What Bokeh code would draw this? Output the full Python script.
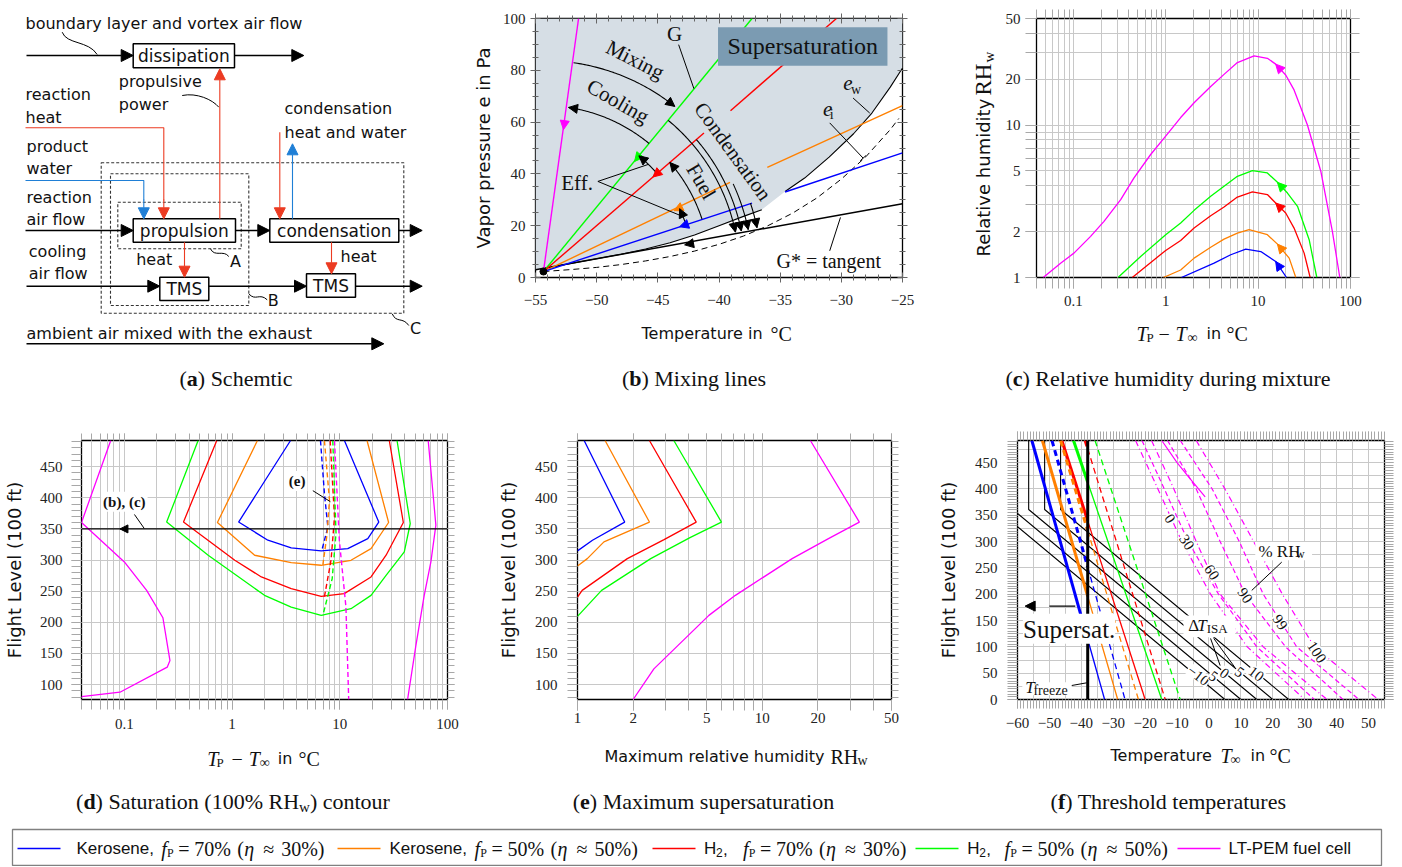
import numpy as np
from bokeh.plotting import figure
from bokeh.models import (Range1d, Label, Arrow, NormalHead, LinearAxis, LogAxis,
                          FixedTicker, CustomJSTickFormatter)
from bokeh.layouts import column, row
from bokeh.embed import file_html
from bokeh.resources import INLINE
from bokeh.core.properties import value

SERIF = "Liberation Serif"
SANS = "DejaVu Sans"
LSANS = "Liberation Sans"
C_BLUE = "#0000ff"; C_ORANGE = "#ff8000"; C_RED = "#ff0000"; C_GREEN = "#00ff00"; C_MAG = "#ff00ff"
S_RED = "#ec3b22"; S_BLUE = "#1f7fd6"
GRID = "#c8c8c8"; TICKG = "#a8a8a8"

# ======================= DATA =======================
# (b) Mixing lines  (T in degC, e in Pa)
b_amb_T, b_amb_e = -54.35, 2.3
b_mag_T = [-54.35, -51.48];  b_mag_e = [2.3, 100.0]
b_green_T = [-54.35, -37.3]; b_green_e = [2.3, 100.0]
b_red_T1 = [-54.35, -41.23]; b_red_e1 = [2.3, 55.8]
b_red_T2 = [-39.06, -30.4];  b_red_e2 = [64.4, 100.0]
b_orange_T1 = [-54.35, -39.1]; b_orange_e1 = [2.3, 36.7]
b_orange_T2 = [-36.05, -25.0]; b_orange_e2 = [42.5, 66.4]
b_blue_T1 = [-54.35, -37.3]; b_blue_e1 = [2.3, 28.7]
b_blue_T2 = [-34.6, -25.0];  b_blue_e2 = [33.0, 48.1]
b_tan_T = [-55.0, -25.0]; b_tan_e = [3.0, 28.5]
b_ew_T1 = [-54.35, -52, -50, -48, -46, -44, -42, -40, -38, -36.5]
b_ew_e1 = [3.4, 5.5, 7.25, 9.0, 11.0, 13.4, 16.4, 20.0, 23.6, 26.2]
b_ew_T2 = [-34.6, -33, -31, -29, -27.5, -26, -25]
b_ew_e2 = [33.2, 38.4, 46.5, 55.5, 63.5, 73.5, 80.9]
b_ei_T = [-54.35, -52, -50, -48, -46, -44, -42, -40, -38, -36, -34, -32, -30, -28, -26, -25.3]
b_ei_e = [2.3, 3.1, 3.9, 5.0, 6.4, 8.1, 10.2, 12.8, 16.0, 20.0, 24.8, 30.7, 38.0, 46.6, 57.1, 61.4]
b_arrow_mag = (-52.71, 57.1); b_arrow_green = (-46.9, 44.8); b_arrow_red = (-45.4, 38.8)
b_arrow_orange = (-43.68, 25.8); b_arrow_blue = (-43.22, 19.6); b_arrow_tan = (-42.81, 12.6)

# (c) Relative humidity during mixture: x = T_P - T_inf (degC), y = RH_w
c_mag_x = [0.0473, 0.0729, 0.1017, 0.154, 0.215, 0.326, 0.454, 0.688, 1.0, 1.453, 2.03, 3.07, 4.28,
           5.97, 9.05, 12.6, 15.5, 19.9, 24.5, 34.2, 47.7, 63.8, 76.6]
c_mag_y = [1.0, 1.242, 1.445, 1.862, 2.335, 3.24, 4.50, 6.41, 8.45, 11.2, 14.0, 17.9, 21.5,
           25.7, 28.4, 27.4, 25.1, 21.3, 17.0, 10.0, 4.98, 1.99, 1.0]
c_green_x = [0.305, 0.536, 1.0, 1.453, 2.03, 3.07, 4.28, 5.97, 8.68, 12.6, 16.2, 20.8, 26.7, 35.7, 43.2]
c_green_y = [1.0, 1.374, 1.908, 2.28, 2.757, 3.41, 3.97, 4.61, 5.03, 4.85, 4.21, 3.58, 2.93, 1.769, 1.0]
c_red_x = [0.435, 1.0, 1.453, 2.03, 3.07, 4.28, 5.97, 8.68, 12.6, 15.5, 19.9, 24.5, 31.5, 36.6]
c_red_y = [1.0, 1.505, 1.75, 2.11, 2.54, 2.90, 3.37, 3.64, 3.50, 3.08, 2.65, 2.11, 1.445, 1.0]
c_orange_x = [0.944, 1.453, 2.03, 3.07, 4.28, 5.97, 7.99, 12.6, 16.2, 21.7, 25.6]
c_orange_y = [1.0, 1.12, 1.34, 1.58, 1.786, 1.955, 2.06, 1.908, 1.656, 1.34, 1.0]
c_blue_x = [1.48, 3.34, 5.06, 7.35, 10.7, 15.5, 20.3]
c_blue_y = [1.0, 1.242, 1.41, 1.536, 1.48, 1.274, 1.0]
c_arrows = [((15.5, 25.1), (19.9, 21.3), C_MAG), ((16.2, 4.21), (20.8, 3.58), C_GREEN),
            ((15.5, 3.08), (19.9, 2.65), C_RED), ((16.2, 1.656), (21.7, 1.34), C_ORANGE),
            ((15.5, 1.274), (20.3, 1.0), C_BLUE)]

# (d) Saturation contours: x = T_P - T_inf, y = flight level (100 ft)
d_blue_x = [3.49, 1.15, 2.15, 3.54, 6.72, 11.86, 18.2, 23.0, 11.04]
d_blue_y = [492, 361, 331.8, 319.5, 314.7, 318.4, 334.5, 361, 492]
d_orange_x = [1.72, 0.731, 1.62, 3.54, 6.72, 12.7, 19.5, 28.4, 17.9]
d_orange_y = [492, 360.3, 307.7, 295.9, 291.6, 299.6, 318.4, 360.3, 492]
d_red_x = [0.721, 0.354, 1.06, 1.87, 3.54, 6.72, 11.0, 19.5, 26.9, 38.9, 28.8]
d_red_y = [492, 361, 299.6, 272.8, 254, 241.7, 246, 272.8, 307.7, 360.3, 492]
d_green_x = [0.484, 0.247, 0.6, 2.0, 3.54, 6.72, 12.7, 19.5, 26.9, 39.7, 45.1, 34.0]
d_green_y = [492, 361, 307.7, 243.3, 224.5, 211.1, 221.8, 243.3, 275.5, 313, 358.7, 492]
d_magL_x = [0.0747, 0.04, 0.1, 0.161, 0.228, 0.265, 0.25, 0.091, 0.04]
d_magL_y = [492, 360.3, 297, 251.3, 207.3, 138.6, 127.9, 87.7, 80.7]
d_magR_x = [66.2, 78.0, 70.1, 60.8, 50.9, 42.6]
d_magR_y = [492, 356, 297, 243.3, 162.8, 76]
d_blue_dx = [6.62, 7.2, 7.75, 6.8];  d_blue_dy = [492, 407, 353, 315]
d_orange_dx = [7.2, 8.02, 7.6, 6.96]; d_orange_dy = [492, 396, 340, 292]
d_red_dx = [8.14, 8.93, 8.3, 7.2];    d_red_dy = [492, 369, 300, 241]
d_green_dx = [8.61, 9.23, 8.5, 6.96]; d_green_dy = [492, 343, 270, 211]
d_mag_dx = [8.93, 9.9, 11.4, 12.1];   d_mag_dy = [492, 332, 225, 76]
d_cruise_FL = 350

# (e) Maximum supersaturation: x = max RH_w, y = flight level
e_blue_x = [1.086, 1.80, 1.205, 1.0];              e_blue_y = [492, 361, 331.8, 314.7]
e_orange_x = [1.41, 2.45, 1.39, 1.13, 1.0];        e_orange_y = [492, 361, 329.2, 302.3, 290.5]
e_red_x = [2.45, 4.39, 2.94, 1.86, 1.06, 1.0];     e_red_y = [492, 361, 332.9, 302.3, 251.3, 240.6]
e_green_x = [3.32, 6.01, 4.06, 2.49, 1.35, 1.0];   e_green_y = [492, 361, 336.1, 302.3, 251.3, 209.5]
e_mag_x = [18.2, 33.5, 22.8, 14.5, 7.15, 5.14, 2.59, 2.0]
e_mag_y = [492, 361, 334.5, 302.3, 243.3, 211.1, 125.2, 76]

# (f) Threshold temperatures (T in degC at FL 492 and FL 0)
f_FL_top, f_FL_bot = 492, 0
f_T_freeze = -38.0
f_solid_top = [-55.5, -52.2, -46.1, -42.45]   # blue, orange, red, green
f_solid_bot = [-32.7, -28.6, -20.0, -14.8]
f_dash_top = [-49.2, -46.5, -38.8, -35.7]
f_dash_bot = [-26.3, -22.1, -13.7, -9.0]
f_isa_dT = ["\u221210", "5", "0", "5", "10"]
f_isa_trop_T = [-66.5, -61.5, -56.5, -51.5, -46.5]
f_isa_ground_T = [5, 10, 15, 20, 25]
f_trop_FL = 361
f_isa_label_T = [-3.3, 1.4, 4.85, 9.55, 14.8]
f_isa_label_FL = [45.6, 44.3, 50.0, 52.0, 48.9]
f_rh_levels = ["0", "30", "60", "90", "99", "100"]
f_rh_FL = [492, 400, 300, 200, 100, 0]
f_rh_T = [[-23, -16, -8.5, 0.5, 12, 30],
          [-21, -14, -6.5, 3, 15, 33],
          [-18, -11, -4, 3.5, 17, 37],
          [-13, -4, 3.5, 11.4, 24, 42],
          [-9, 1, 9.5, 17, 27.5, 47],
          [-4, 5, 14, 23, 33, 53]]
f_rh_dash = ["6 3 1 3", "5 3", "6 3 1 3", "5 3", "5 3", "6 3 1 3"]
f_rh_label_T = [-12.2, -6.9, 0.9, 11.35, 22.3, 33.8]
f_rh_label_FL = [343.5, 299, 242, 197.7, 147, 90]
f_mag_solid_T = [-14.8, -10.0, -6.4, -1.2]
f_mag_solid_FL = [492, 450, 423, 385]

# legend
leg_colors = [C_BLUE, C_ORANGE, C_RED, C_GREEN, C_MAG]
leg_fuel = ["Kerosene,", "Kerosene,", "H", "H", "LT-PEM fuel cell"]
leg_fp = ["70%", "50%", "70%", "50%"]
leg_eta = ["30%", "50%", "30%", "50%"]

# ======================= HELPERS =======================
TIMES = {' ': 250, '(': 333, ')': 333, '%': 833, ',': 250, '.': 250, '-': 333}
for _c in '0123456789':
    TIMES[_c] = 500
TIMES.update(dict(a=444, b=500, c=444, d=500, e=444, f=333, g=500, h=500, i=278, j=278, k=500, l=278,
                  m=778, n=500, o=500, p=500, q=500, r=333, s=389, t=278, u=500, v=500, w=722,
                  x=500, y=500, z=444))
TIMES.update({'S': 556, 'R': 667, 'H': 722, 'M': 889, 'T': 611, 'C': 667})
TIMES_B = dict(a=500, b=556, c=444, d=556, e=444, f=333)


def tw(s, size, bold=False):
    tot = 0
    for ch in s:
        tot += TIMES_B.get(ch, TIMES.get(ch, 500)) if bold else TIMES.get(ch, 500)
    return tot * size / 1000.0


def mkfig(w, h, bl, br, bt, bb, xr, yr, xlog=False, ylog=False):
    p = figure(width=w, height=h, x_range=xr, y_range=yr,
               x_axis_type="log" if xlog else "linear",
               y_axis_type="log" if ylog else "linear",
               output_backend="svg", toolbar_location=None,
               min_border_left=bl, min_border_right=br, min_border_top=bt, min_border_bottom=bb)
    p.outline_line_color = "black"
    p.outline_line_width = 1.3
    p.background_fill_color = "white"
    p.border_fill_color = "white"
    return p


def blank(w, h, xr, yr, bt=0, bb=0):
    p = figure(width=w, height=h, x_range=xr, y_range=yr, output_backend="svg",
               toolbar_location=None, min_border_left=0, min_border_right=0,
               min_border_top=bt, min_border_bottom=bb,
               x_axis_location=None, y_axis_location=None)
    p.grid.visible = False
    p.outline_line_color = None
    p.background_fill_color = "white"
    p.border_fill_color = "white"
    return p


FMT = "var v = Math.round(tick*1000)/1000; return v < 0 ? '\u2212' + String(-v) : String(v);"


def cfg_axis(ax, ticks, minor, labels=True, tin=0, tout=10, mtin=0, mtout=10,
             color=TICKG, standoff=6, size="15px"):
    ax.ticker = FixedTicker(ticks=ticks, minor_ticks=minor)
    ax.axis_line_color = None
    ax.major_tick_line_color = color
    ax.minor_tick_line_color = color
    ax.major_tick_in = tin
    ax.major_tick_out = tout
    ax.minor_tick_in = mtin
    ax.minor_tick_out = mtout
    ax.major_label_text_font = SERIF
    if labels:
        ax.formatter = CustomJSTickFormatter(code=FMT)
        ax.major_label_text_color = "#222222"
        ax.major_label_text_font_size = size
        ax.major_label_standoff = standoff
    else:
        ax.formatter = CustomJSTickFormatter(code="return '';")
        ax.major_label_text_color = None
        ax.major_label_text_font_size = "1px"
        ax.major_label_standoff = 0


def frame_axes(p, xlog, ylog, xt, xm, yt, ym, **kw):
    top = LogAxis() if xlog else LinearAxis()
    cfg_axis(top, xt, xm, labels=False, **kw)
    p.add_layout(top, "above")
    right = LogAxis() if ylog else LinearAxis()
    cfg_axis(right, yt, ym, labels=False, **kw)
    p.add_layout(right, "right")


def gtext(p, x, y, text, font=SERIF, size=18, style="normal", align="left", angle=0.0,
          color="#111111"):
    p.text(x=[x], y=[y], text=[text], text_font=value(font), text_font_size=value(f"{size}px"),
           text_font_style=style, text_align=align, text_baseline="middle", angle=angle,
           text_color=color)


def dlabel(p, x, y, text, font=SERIF, size=18, style="normal", align="center", angle=0,
           color="#111111", bg=None, pad=0):
    kw = {}
    if bg is not None:
        kw = dict(background_fill_color=bg, background_fill_alpha=1.0, padding=pad)
    p.add_layout(Label(x=x, y=y, text=text, text_font=font, text_font_size=f"{size}px",
                       text_font_style=style, text_align=align, text_baseline="middle",
                       angle=angle, angle_units="deg", text_color=color, **kw))


def caption(p, cx, cy, pieces):
    size, ssize = 22, 15
    total = 0
    for t, k in pieces:
        total += tw(t, ssize) if k == "sub" else tw(t, size, k == "b")
    x = cx - total / 2.0
    for t, k in pieces:
        if k == "sub":
            gtext(p, x, cy + 5, t, size=ssize)
            x += tw(t, ssize)
        else:
            gtext(p, x, cy, t, size=size, style="bold" if k == "b" else "normal")
            x += tw(t, size, k == "b")


def head(p, xa, ya, xb, yb, color="black", size=8):
    p.add_layout(Arrow(x_start=xa, y_start=ya, x_end=xb, y_end=yb, line_alpha=0.0,
                       end=NormalHead(size=size, fill_color=color, line_color=color, line_width=1)))


def arrow(p, xa, ya, xb, yb, color="black", width=1.5, size=11):
    p.add_layout(Arrow(x_start=xa, y_start=ya, x_end=xb, y_end=yb, line_color=color,
                       line_width=width,
                       end=NormalHead(size=size, fill_color=color, line_color=color, line_width=1)))


def style_label(ax, size="18px", standoff=8):
    ax.axis_label_text_font = SANS
    ax.axis_label_text_font_size = size
    ax.axis_label_text_font_style = "normal"
    ax.axis_label_text_color = "#111111"
    ax.axis_label_standoff = standoff


LOG_GRID_C = [k * 10.0 ** e for e in (-2, -1, 0, 1) for k in range(1, 10)
              if 0.04 <= k * 10.0 ** e <= 100] + [100.0]

# ======================= (a) Schematic (page coordinates) =======================
pa = blank(460, 406, Range1d(0, 460), Range1d(406, 0))
pa.quad(left=[117.3, 110, 100.7], right=[240.7, 248.3, 403.3], top=[201.7, 173.3, 162.3],
        bottom=[248.3, 305, 312.7], fill_color=None, line_color="#333333", line_dash="3 2",
        line_width=1.1)
for xa, ya, xb, yb in [(26, 55, 132.7, 55), (234, 55, 303.3, 55), (25, 230, 132.7, 230),
                       (235, 230, 269.3, 230), (398.3, 230, 421.7, 230), (26, 285.7, 159.3, 285.7),
                       (208.3, 285.7, 306, 285.7), (355, 285.7, 421.7, 285.7),
                       (26, 343.3, 383.3, 343.3)]:
    arrow(pa, xa, ya, xb, yb, "black", 1.6, 12)
pa.line([25, 163.3, 163.3], [127.3, 127.3, 200], line_color=S_RED, line_width=1.1)
arrow(pa, 163.3, 199, 163.3, 218.3, S_RED, 1.1, 11)
pa.line([25, 143.3, 143.3], [180, 180, 200], line_color=S_BLUE, line_width=1.1)
arrow(pa, 143.3, 199, 143.3, 218.3, S_BLUE, 1.1, 11)
arrow(pa, 219.3, 218.3, 219.3, 68.3, S_RED, 1.1, 11)
arrow(pa, 279.3, 131.7, 279.3, 218.3, S_RED, 1.1, 11)
arrow(pa, 292, 218.3, 292, 143.3, S_BLUE, 1.1, 11)
arrow(pa, 184, 241.7, 184, 276.7, S_RED, 1.1, 11)
arrow(pa, 331, 241.7, 331, 273.3, S_RED, 1.1, 11)
pa.quad(left=[132.7, 132.7, 269.3, 159.3, 306], right=[234, 235, 398.3, 208.3, 355],
        top=[43.3, 218.3, 218.3, 276.7, 273.3], bottom=[67.3, 241.7, 241.7, 300, 296.7],
        fill_color="white", line_color="black", line_width=1.5)
pa.text(x=[183.3, 183.8, 333.8, 183.8, 330.5], y=[55, 230, 230, 288.3, 285],
        text=["dissipation", "propulsion", "condensation", "TMS", "TMS"],
        text_font=value(SANS), text_font_size=value("17px"), text_align="center",
        text_baseline="middle", text_color="#111111")
pa.text(x=[25, 118.3, 118.3, 25, 25, 26, 26, 26, 26, 284, 284, 28.3, 28.3, 135.7, 340, 26],
        y=[22.7, 80.7, 104, 94.3, 116.7, 146, 168.3, 196.7, 219.3, 108.3, 131.7, 250.7, 273.3,
           259.3, 256, 332.7],
        text=["boundary layer and vortex air flow", "propulsive", "power", "reaction", "heat",
              "product", "water", "reaction", "air flow", "condensation", "heat and water",
              "cooling", "air flow", "heat", "heat", "ambient air mixed with the exhaust"],
        text_font=value(SANS), text_font_size=value("16px"), text_align="left",
        text_baseline="middle", text_color="#111111")
pa.text(x=[235, 272.7, 415], y=[260.7, 300, 328.3], text=["A", "B", "C"],
        text_font=value(SANS), text_font_size=value("16px"), text_align="center",
        text_baseline="middle", text_color="#111111")
pa.bezier(x0=[61.7, 181.7, 210, 248.3, 391.7], y0=[31.7, 95, 248.3, 293.3, 313.3],
          x1=[96.7, 218.3, 228.3, 266.7, 408.3], y1=[54, 106.7, 256, 299.3, 325],
          cx0=[66, 196, 214, 255, 396], cy0=[44, 92, 257, 301, 323],
          cx1=[88, 212, 223, 259, 402], cy1=[40, 99, 249, 292, 316],
          line_color="black", line_width=1)
caption(pa, 235.5, 378, [("(", "n"), ("a", "b"), (") Schemtic", "n")])

# ======================= (b) Mixing lines =======================
R1H, R1T, R1B = 314, 18, 37
pb = mkfig(475, R1H, 75, 33, R1T, R1B, Range1d(-55, -25), Range1d(0, 100))
BX = list(range(-55, -24, 5)); BXm = list(range(-55, -24, 1))
BY = list(range(0, 101, 20)); BYm = list(range(0, 101, 5))
bx_ax, by_ax = pb.xaxis[0], pb.yaxis[0]
cfg_axis(bx_ax, BX, BXm, tin=5, tout=5, mtin=3, mtout=3, color="#666666", standoff=12)
cfg_axis(by_ax, BY, BYm, tin=5, tout=5, mtin=3, mtout=3, color="#666666", standoff=5)
by_ax.axis_label = "Vapor pressure e in Pa"
style_label(by_ax, "18px", 6)
frame_axes(pb, False, False, BX, BXm, BY, BYm, tin=5, tout=5, mtin=3, mtout=3, color="#666666")
pb.grid.visible = False

shade_x = [-55.0] + b_ew_T1 + b_ew_T2 + [-25.0, -55.0]
shade_y = [3.0] + b_ew_e1 + b_ew_e2 + [100.0, 100.0]
pb.patch(shade_x, shade_y, fill_color="#d6dee5", line_color=None)
pb.line(b_ei_T, b_ei_e, line_color="black", line_dash="6 4", line_width=1)
pb.line(b_ew_T1, b_ew_e1, line_color="black", line_width=1.1)
pb.line(b_ew_T2, b_ew_e2, line_color="black", line_width=1.1)
pb.line(b_tan_T, b_tan_e, line_color="black", line_width=1.5)
pb.line(b_mag_T, b_mag_e, line_color=C_MAG, line_width=1.4)
pb.line(b_green_T, b_green_e, line_color=C_GREEN, line_width=1.4)
pb.line(b_red_T1, b_red_e1, line_color=C_RED, line_width=1.4)
pb.line(b_red_T2, b_red_e2, line_color=C_RED, line_width=1.4)
pb.line(b_orange_T1, b_orange_e1, line_color=C_ORANGE, line_width=1.4)
pb.line(b_orange_T2, b_orange_e2, line_color=C_ORANGE, line_width=1.4)
pb.line(b_blue_T1, b_blue_e1, line_color=C_BLUE, line_width=1.4)
pb.line(b_blue_T2, b_blue_e2, line_color=C_BLUE, line_width=1.4)
pb.scatter([b_amb_T], [b_amb_e], size=7, color="black")

for (ax_, ay_), (ex, ey), col in [(b_arrow_mag, (b_mag_T[1], b_mag_e[1]), C_MAG),
                                  (b_arrow_green, (b_green_T[1], b_green_e[1]), C_GREEN),
                                  (b_arrow_red, (b_red_T1[1], b_red_e1[1]), C_RED),
                                  (b_arrow_orange, (b_orange_T1[1], b_orange_e1[1]), C_ORANGE),
                                  (b_arrow_blue, (b_blue_T1[1], b_blue_e1[1]), C_BLUE),
                                  (b_arrow_tan, (b_tan_T[1], b_tan_e[1]), "black")]:
    head(pb, ax_ + 0.06 * (ex - b_amb_T), ay_ + 0.06 * (ey - b_amb_e), ax_, ay_, col, 9)

SXB = 367.0 / 30.0; SYB = 259.0 / 100.0


def arc(r, a0, a1, n=60):
    t = np.radians(np.linspace(a0, a1, n))
    return (b_amb_T + r * np.cos(t) / SXB).tolist(), (b_amb_e + r * np.sin(t) / SYB).tolist()


for r, a0, a1 in [(211, 81.8, 51.5), (166, 50.5, 81.3), (150, 40.8, 50.5), (150, 18.3, 24.8),
                  (167, 18.3, 40.8), (196, 50.5, 11.6), (202, 40.8, 11.6), (209, 24.8, 11.6),
                  (218, 18.3, 11.6)]:
    xs, ys = arc(r, a0, a1)
    pb.line(xs, ys, line_color="black", line_width=1.1)
    head(pb, xs[-3], ys[-3], xs[-1], ys[-1], "black", 9)

pb.quad(left=[-40.08], right=[-26.23], top=[96.6], bottom=[81.8], fill_color="#7b9bb2",
        line_color=None)
dlabel(pb, -33.15, 89.2, "Supersaturation", size=24)
dlabel(pb, -43.63, 94.2, "G", size=21)
pb.line([-43.3, -42.05], [89.9, 72.9], line_color="black", line_width=1)
dlabel(pb, -46.85, 84.1, "Mixing", size=21, angle=-27)
dlabel(pb, -48.26, 68.0, "Cooling", size=21, angle=-30)
dlabel(pb, -38.86, 48.7, "Condensation", size=21, angle=-54)
dlabel(pb, -41.45, 37.1, "Fuel", size=21, angle=-60)
dlabel(pb, -51.6, 36.5, "Eff.", size=21)
e1x, e1y = arc(150, 45.6, 45.6, 1)
e2x, e2y = arc(150, 21.5, 21.5, 1)
pb.line([e1x[0], -49.9, e2x[0]], [e1y[0], 37.1, e2y[0]], line_color="black", line_width=1)
dlabel(pb, -29.85, 75.1, "e", size=21, style="italic", align="left")
dlabel(pb, -29.2, 72.7, "w", size=14, align="left")
pb.line([-29.04, -27.68], [69.3, 63.5], line_color="black", line_width=1)
dlabel(pb, -31.5, 65.2, "e", size=21, style="italic", align="left")
dlabel(pb, -30.95, 63.0, "i", size=14, align="left")
pb.line([-30.95, -28.22], [59.7, 46.1], line_color="black", line_width=1)
pb.line([-28.45, -27.98], [45.1, 47.1], line_color="black", line_width=1)
dlabel(pb, -31.03, 6.4, "G* = tangent", size=20)
pb.line([-30.95, -30.07], [10.3, 23.2], line_color="black", line_width=1)

# ======================= (c) Relative humidity =======================
# y-label strip (frame covers page y 18..277; data y = 277 - page y)
pct = blank(65, R1H, Range1d(935, 1000), Range1d(0, 259), bt=R1T, bb=R1B)
gtext(pct, 983, 277 - 256, "Relative humidity", font=SANS, size=18, angle=np.pi / 2)
gtext(pct, 983, 277 - 95, "RH", size=23, angle=np.pi / 2)
gtext(pct, 988, 277 - 62, "w", size=15, angle=np.pi / 2)

pc = mkfig(402, R1H, 36, 52, R1T, R1B, Range1d(0.04, 100), Range1d(1, 50), xlog=True, ylog=True)
CXt = [0.1, 1, 10, 100]
CYg = [1, 2, 3, 4, 5, 6, 7, 8, 9, 10, 20, 30, 40, 50]
CYt = [1, 2, 5, 10, 20, 50]
cfg_axis(pc.xaxis[0], CXt, LOG_GRID_C, standoff=7, tout=11, mtout=11)
cfg_axis(pc.yaxis[0], CYt, CYg, standoff=5, tout=11, mtout=11)
frame_axes(pc, True, True, CXt, LOG_GRID_C, CYt, CYg, tout=9, mtout=9)
pc.xgrid.ticker = FixedTicker(ticks=LOG_GRID_C)
pc.ygrid.ticker = FixedTicker(ticks=CYg)
pc.grid.grid_line_color = GRID
for xs, ys, col in [(c_mag_x, c_mag_y, C_MAG), (c_green_x, c_green_y, C_GREEN),
                    (c_red_x, c_red_y, C_RED), (c_orange_x, c_orange_y, C_ORANGE),
                    (c_blue_x, c_blue_y, C_BLUE)]:
    pc.line(xs, ys, line_color=col, line_width=1.3)
for (tip, tail, col) in c_arrows:
    head(pc, tail[0], tail[1], tip[0], tip[1], col, 9)

# strip under b and c (page coordinates)
s1 = blank(942, 92, Range1d(460, 1402), Range1d(406, 314))
gtext(s1, 641, 333, "Temperature in", font=SANS, size=16)
gtext(s1, 770, 333, "\u00b0C", size=20)
gtext(s1, 1136, 333, "T", size=20, style="italic")
gtext(s1, 1146, 337, "P", size=13)
gtext(s1, 1158, 333, "\u2212", size=20)
gtext(s1, 1175, 333, "T", size=20, style="italic")
gtext(s1, 1187, 337, "\u221e", size=14)
gtext(s1, 1206, 333, "in", font=SANS, size=16)
gtext(s1, 1226, 333, "\u00b0C", size=20)
caption(s1, 693.5, 378, [("(", "n"), ("b", "b"), (") Mixing lines", "n")])
caption(s1, 1167.5, 378, [("(", "n"), ("c", "b"), (") Relative humidity during mixture", "n")])

# ======================= (d) Saturation contours =======================
R2H, R2T, R2B = 331, 34, 38
pdd = mkfig(480, R2H, 80, 33, R2T, R2B, Range1d(0.04, 100), Range1d(76, 492), xlog=True)
DYt = [100, 150, 200, 250, 300, 350, 400, 450]
DYm = list(range(80, 492, 10))
dy_ax = pdd.yaxis[0]
cfg_axis(pdd.xaxis[0], CXt, LOG_GRID_C, standoff=9, tout=10, mtout=10)
cfg_axis(dy_ax, DYt, DYm, standoff=9, tout=10, mtout=10)
dy_ax.axis_label = "Flight Level (100 ft)"
style_label(dy_ax, "18px", 12)
frame_axes(pdd, True, False, CXt, LOG_GRID_C, DYt, DYm, tout=7, mtout=7)
pdd.xgrid.ticker = FixedTicker(ticks=LOG_GRID_C)
pdd.ygrid.ticker = FixedTicker(ticks=DYt)
pdd.grid.grid_line_color = GRID
for xs, ys, col in [(d_blue_x, d_blue_y, C_BLUE), (d_orange_x, d_orange_y, C_ORANGE),
                    (d_red_x, d_red_y, C_RED), (d_green_x, d_green_y, C_GREEN),
                    (d_magL_x, d_magL_y, C_MAG), (d_magR_x, d_magR_y, C_MAG)]:
    pdd.line(xs, ys, line_color=col, line_width=1.3)
for xs, ys, col in [(d_blue_dx, d_blue_dy, C_BLUE), (d_orange_dx, d_orange_dy, C_ORANGE),
                    (d_red_dx, d_red_dy, C_RED), (d_green_dx, d_green_dy, C_GREEN),
                    (d_mag_dx, d_mag_dy, C_MAG)]:
    pdd.line(xs, ys, line_color=col, line_width=1.4, line_dash="5 3")
pdd.line([0.04, 100], [d_cruise_FL, d_cruise_FL], line_color="black", line_width=1.4)
head(pdd, 0.115, d_cruise_FL, 0.091, d_cruise_FL, "black", 8)
pdd.line([0.124, 0.153], [373.2, 350.7], line_color="black", line_width=1)
pdd.line([5.62, 8.18], [411.4, 393.7], line_color="black", line_width=1)
dlabel(pdd, 0.1, 393.6, "(b), (c)", size=15, style="bold", bg="white", pad=2)
dlabel(pdd, 4.02, 426.8, "(e)", size=15, style="bold", bg="white", pad=2)

# ======================= (e) Maximum supersaturation =======================
pe = mkfig(450, R2H, 97, 39, R2T, R2B, Range1d(1, 50), Range1d(76, 492), xlog=True)
EXt = [1, 2, 5, 10, 20, 50]
EXg = [1, 2, 3, 4, 5, 6, 7, 8, 9, 10, 20, 30, 40, 50]
ey_ax = pe.yaxis[0]
cfg_axis(pe.xaxis[0], EXt, EXg, standoff=2, tout=11, mtout=11)
cfg_axis(ey_ax, DYt, DYm, standoff=10, tout=10, mtout=10)
ey_ax.axis_label = "Flight Level (100 ft)"
style_label(ey_ax, "18px", 13)
frame_axes(pe, True, False, EXt, EXg, DYt, DYm, tout=7, mtout=7)
pe.xgrid.ticker = FixedTicker(ticks=EXg)
pe.ygrid.ticker = FixedTicker(ticks=DYt)
pe.grid.grid_line_color = GRID
for xs, ys, col in [(e_blue_x, e_blue_y, C_BLUE), (e_orange_x, e_orange_y, C_ORANGE),
                    (e_red_x, e_red_y, C_RED), (e_green_x, e_green_y, C_GREEN),
                    (e_mag_x, e_mag_y, C_MAG)]:
    pe.line(xs, ys, line_color=col, line_width=1.3)

# ======================= (f) Threshold temperatures =======================
pf = mkfig(472, R2H, 87, 18, R2T, R2B, Range1d(-60, 55), Range1d(0, 492))
FXt = list(range(-60, 51, 10)); FXm = list(range(-60, 56, 1)); FXg = list(range(-60, 56, 5))
FYt = list(range(0, 451, 50)); FYm = list(range(0, 492, 5)); FYg = list(range(0, 492, 25))
fy_ax = pf.yaxis[0]
cfg_axis(pf.xaxis[0], FXt, FXm, standoff=9, tout=9, mtout=9)
cfg_axis(fy_ax, FYt, FYm, standoff=10, tout=10, mtout=10)
fy_ax.axis_label = "Flight Level (100 ft)"
style_label(fy_ax, "18px", 13)
frame_axes(pf, False, False, FXt, FXm, FYt, FYm, tout=9, mtout=9)
pf.xgrid.ticker = FixedTicker(ticks=FXg)
pf.ygrid.ticker = FixedTicker(ticks=FYg)
pf.grid.grid_line_color = GRID

for xs, dash in zip(f_rh_T, f_rh_dash):
    pf.line(xs, f_rh_FL, line_color=C_MAG, line_width=1.2, line_dash=dash)
pf.line(f_mag_solid_T, f_mag_solid_FL, line_color=C_MAG, line_width=1.2)
for tt, tg in zip(f_isa_trop_T, f_isa_ground_T):
    pf.line([tt, tt, tg], [f_FL_top, f_trop_FL, f_FL_bot], line_color="black", line_width=1.1)


def split_line(p, t_top, t_bot, col, dash):
    frac = (f_T_freeze - t_top) / (t_bot - t_top)
    fl_mid = f_FL_top + frac * (f_FL_bot - f_FL_top)
    kw = dict(line_dash=dash) if dash else {}
    if t_top < f_T_freeze:
        p.line([t_top, f_T_freeze], [f_FL_top, fl_mid], line_color=col, line_width=3, **kw)
        p.line([f_T_freeze, t_bot], [fl_mid, f_FL_bot], line_color=col, line_width=1.3, **kw)
    else:
        p.line([t_top, t_bot], [f_FL_top, f_FL_bot], line_color=col, line_width=1.3, **kw)


for tt, tb, col in zip(f_solid_top, f_solid_bot, [C_BLUE, C_ORANGE, C_RED, C_GREEN]):
    split_line(pf, tt, tb, col, None)
for tt, tb, col in zip(f_dash_top, f_dash_bot, [C_BLUE, C_ORANGE, C_RED, C_GREEN]):
    split_line(pf, tt, tb, col, "6 4")
pf.line([f_T_freeze, f_T_freeze], [f_FL_bot, f_FL_top], line_color="black", line_width=3)

pf.quad(left=[-58.3, -8.0, 14.5, -58.5], right=[-29.4, 8.2, 32.3, -43.0],
        top=[162.9, 159.7, 299, 33], bottom=[105.8, 118.4, 264.3, 8],
        fill_color="white", line_color=None)
dlabel(pf, -43.8, 133, "Supersat.", size=25)
head(pf, -50, 177.4, -57.6, 177.4, "black", 10)
pf.line([-41.9, -50], [177.4, 177.4], line_color="black", line_width=1.3)
dlabel(pf, -57.6, 23, "T", size=17, style="italic", align="left")
dlabel(pf, -55.0, 17, "freeze", size=14, align="left")
pf.line([-43.0, -38.3], [26.6, 31.7], line_color="black", line_width=1)
dlabel(pf, -6.5, 140.7, "\u0394", size=17, align="left")
dlabel(pf, -3.7, 140.7, "T", size=17, style="italic", align="left")
dlabel(pf, -0.7, 134.0, "ISA", size=13, align="left")
pf.line([0.5, 3.5], [116, 64.5], line_color="black", line_width=1)
pf.line([1.5, 8.0], [116, 62.0], line_color="black", line_width=1)
dlabel(pf, 15.5, 281, "% RH", size=17, align="left")
dlabel(pf, 27.3, 277, "w", size=12, align="left")
pf.line([22.8, 13.4], [261, 207.2], line_color="black", line_width=1)
for t, x, y in zip(f_rh_levels, f_rh_label_T, f_rh_label_FL):
    dlabel(pf, x, y, t, size=15, angle=-56, bg="white", pad=1)
for t, x, y in zip(f_isa_dT, f_isa_label_T, f_isa_label_FL):
    dlabel(pf, x, y, t, size=15, angle=-37, bg="white", pad=1)

# strip under d, e, f (page coordinates)
s2 = blank(1402, 85, Range1d(0, 1402), Range1d(822, 737))
gtext(s2, 206.7, 758, "T", size=20, style="italic")
gtext(s2, 216, 762, "P", size=13)
gtext(s2, 231, 758, "\u2212", size=20)
gtext(s2, 248.3, 758, "T", size=20, style="italic")
gtext(s2, 259.3, 762, "\u221e", size=14)
gtext(s2, 277.3, 758, "in", font=SANS, size=16)
gtext(s2, 298, 758, "\u00b0C", size=20)
gtext(s2, 824, 756, "Maximum relative humidity", font=SANS, size=16, align="right")
gtext(s2, 830, 756, "RH", size=20)
gtext(s2, 857, 760, "w", size=14)
gtext(s2, 1110, 755, "Temperature", font=SANS, size=16)
gtext(s2, 1220, 755, "T", size=20, style="italic")
gtext(s2, 1230, 759, "\u221e", size=14)
gtext(s2, 1250, 755, "in", font=SANS, size=16)
gtext(s2, 1269, 755, "\u00b0C", size=20)
caption(s2, 232.5, 801,
        [("(", "n"), ("d", "b"), (") Saturation (100% RH", "n"), ("w", "sub"), (") contour", "n")])
caption(s2, 703, 801, [("(", "n"), ("e", "b"), (") Maximum supersaturation", "n")])
caption(s2, 1168, 801, [("(", "n"), ("f", "b"), (") Threshold temperatures", "n")])

# ======================= legend =======================
pl = blank(1402, 44, Range1d(0, 1402), Range1d(866, 822))
pl.quad(left=[12], right=[1381], top=[829], bottom=[865], fill_color=None,
        line_color="#808080", line_width=1.3)
LY = 848
seg_x0 = [17, 337, 652, 915, 1177]
pl.segment(x0=seg_x0, x1=[x + 43 for x in seg_x0], y0=[LY] * 5, y1=[LY] * 5,
           line_color=leg_colors, line_width=1.3)
name_x = [76, 389, 703.6, 966.8, 1228]
f_x = [160.7, 474, 742.5, 1004]
pl.text(x=name_x, y=[LY] * 5, text=leg_fuel, text_font=value(LSANS),
        text_font_size=value("17px"), text_baseline="middle", text_color="#111111")
for i in (2, 3):
    pl.text(x=[name_x[i] + 12], y=[LY + 4], text=["2"], text_font=value(LSANS),
            text_font_size=value("12px"), text_baseline="middle", text_color="#111111")
    pl.text(x=[name_x[i] + 19], y=[LY], text=[","], text_font=value(LSANS),
            text_font_size=value("17px"), text_baseline="middle", text_color="#111111")
for i in range(4):
    F = f_x[i]
    pl.text(x=[F, F + 83], y=[LY, LY], text=["f", "\u03b7"], text_font=value(SERIF),
            text_font_style="italic", text_font_size=value("20px"), text_baseline="middle",
            text_color="#111111")
    pl.text(x=[F + 5.8], y=[LY + 4], text=["P"], text_font=value(SERIF),
            text_font_size=value("12px"), text_baseline="middle", text_color="#111111")
    pl.text(x=[F + 17, F + 33, F + 76, F + 102, F + 120], y=[LY] * 5,
            text=["=", leg_fp[i], "(", "\u2248", leg_eta[i] + ")"],
            text_font=value(SERIF), text_font_size=value("20px"), text_baseline="middle",
            text_color="#111111")

layout = column(row(pa, column(row(pb, pct, pc), s1)), row(pdd, pe, pf), s2, pl)
open("out.html", "w").write(file_html(layout, INLINE))
